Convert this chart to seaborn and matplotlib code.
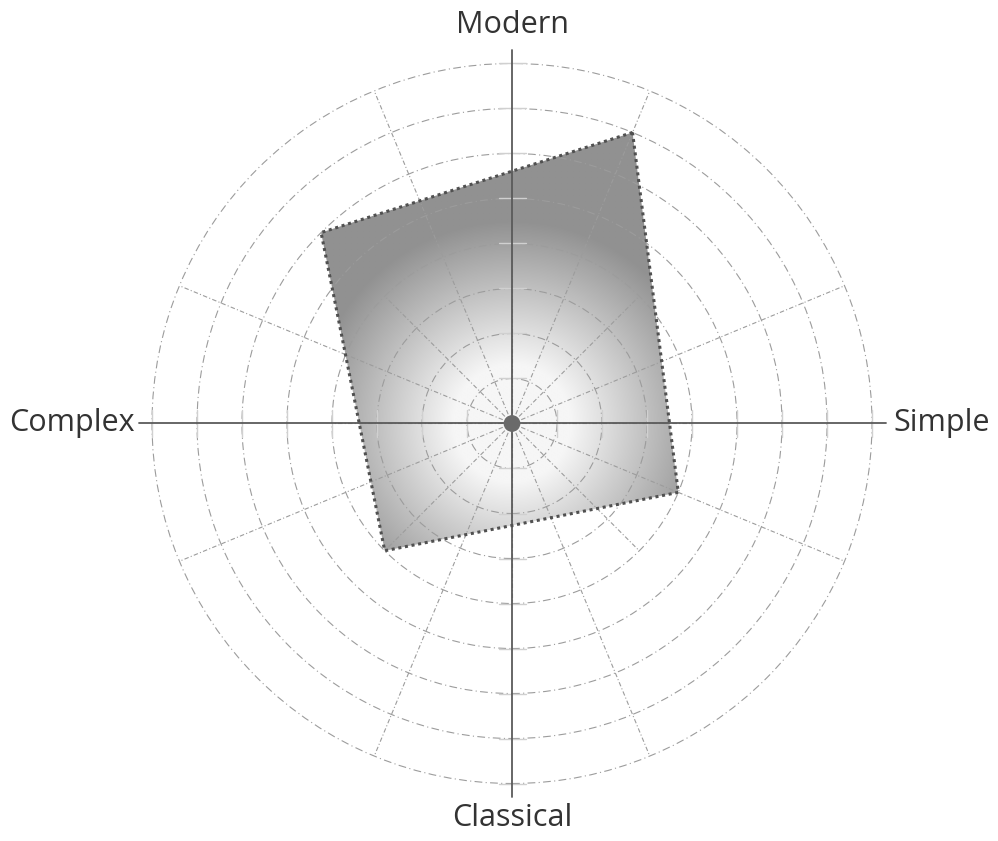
import numpy as np
import pandas as pd
import matplotlib
matplotlib.use('Agg')
import matplotlib.pyplot as plt
import seaborn as sns
from matplotlib.patches import Polygon, Circle

# axis labels (top, right, bottom, left)
axis_labels = ['Modern', 'Simple', 'Classical', 'Complex']

# profile shape: vertex angle (degrees, counter-clockwise from Simple) and score
vertex_angles = [67.5, 135.0, 225.0, 337.5]
vertex_scores = [7.0, 6.0, 4.0, 4.0]

# grid rings
ring_levels = [1, 2, 3, 4, 5, 6, 7, 8]

sns.set_style('white')
plt.rcParams['font.family'] = ['Open Sans', 'DejaVu Sans']

fig = plt.figure(figsize=(9.98, 8.41), dpi=100)
ax = fig.add_axes([0, 0, 1, 1])
unit = 45.0
ax.set_xlim(-512 / unit, (998 - 512) / unit)
ax.set_ylim((423.5 - 841) / unit, 423.5 / unit)
ax.set_aspect('equal')
ax.axis('off')

rmax = max(ring_levels)
grid_col = '#9c9c9c'

# polygon of the profile
theta = np.deg2rad(vertex_angles)
px = np.array(vertex_scores) * np.cos(theta)
py = np.array(vertex_scores) * np.sin(theta)
shape = pd.DataFrame({'x': np.append(px, px[0]), 'y': np.append(py, py[0])})

# radial gradient clipped by the polygon
gx, gy = np.meshgrid(np.linspace(-rmax, rmax, 600), np.linspace(-rmax, rmax, 600))
rr = np.hypot(gx, gy)
shade = np.clip((rr - 1.3) / 3.2, 0, 1)
img = ax.imshow(shade, extent=[-rmax, rmax, -rmax, rmax], origin='lower',
                cmap=matplotlib.colors.LinearSegmentedColormap.from_list('g', ['#f6f6f6', '#919191']),
                vmin=0, vmax=1, zorder=1, interpolation='bilinear')
clip = Polygon(np.column_stack([px, py]), closed=True, transform=ax.transData)
img.set_clip_path(clip)

# rings
for r in ring_levels:
    ax.add_patch(Circle((0, 0), r, fill=False, ec=grid_col, lw=0.8,
                        ls=(0, (7, 3, 1, 3)), zorder=2))

# spokes: 16 inside, 8 offset ones in the outer band
for a in np.arange(0, 360, 22.5):
    t = np.deg2rad(a)
    ax.plot([0, 4 * np.cos(t)], [0, 4 * np.sin(t)], color=grid_col, lw=0.8,
            ls=(0, (4, 2, 1, 2)), zorder=2)
for a in np.arange(22.5, 360, 45):
    t = np.deg2rad(a)
    ax.plot([4 * np.cos(t), rmax * np.cos(t)], [4 * np.sin(t), rmax * np.sin(t)],
            color=grid_col, lw=0.8, ls=(0, (4, 2, 1, 2)), zorder=2)

# main cross and ticks
ext = 8.3
ax.plot([-ext, ext], [0, 0], color='#5a5a5a', lw=1.3, zorder=3)
ax.plot([0, 0], [-ext, ext], color='#5a5a5a', lw=1.3, zorder=3)
for r in ring_levels:
    for s in (-1, 1):
        ax.plot([s * r, s * r], [-0.3, 0.3], color='#d0d0d0', lw=1.0, zorder=2)
        ax.plot([-0.3, 0.3], [s * r, s * r], color='#d0d0d0', lw=1.0, zorder=2)
ax.add_patch(Circle((0, 0), 0.17, color='#6a6a6a', zorder=4))

# outline of the profile
sns.lineplot(data=shape, x='x', y='y', sort=False, estimator=None, ax=ax,
             color='#505050', lw=2.2, ls=(0, (1, 1.2)), zorder=5)

ax.text(0, 8.86, axis_labels[0], ha='center', va='center', fontsize=22, color='#333333')
ax.text(8.47, 0, axis_labels[1], ha='left', va='center', fontsize=22, color='#333333')
ax.text(0, -8.77, axis_labels[2], ha='center', va='center', fontsize=22, color='#333333')
ax.text(-8.38, 0, axis_labels[3], ha='right', va='center', fontsize=22, color='#333333')

fig.savefig('out.png', dpi=100, facecolor='white')
